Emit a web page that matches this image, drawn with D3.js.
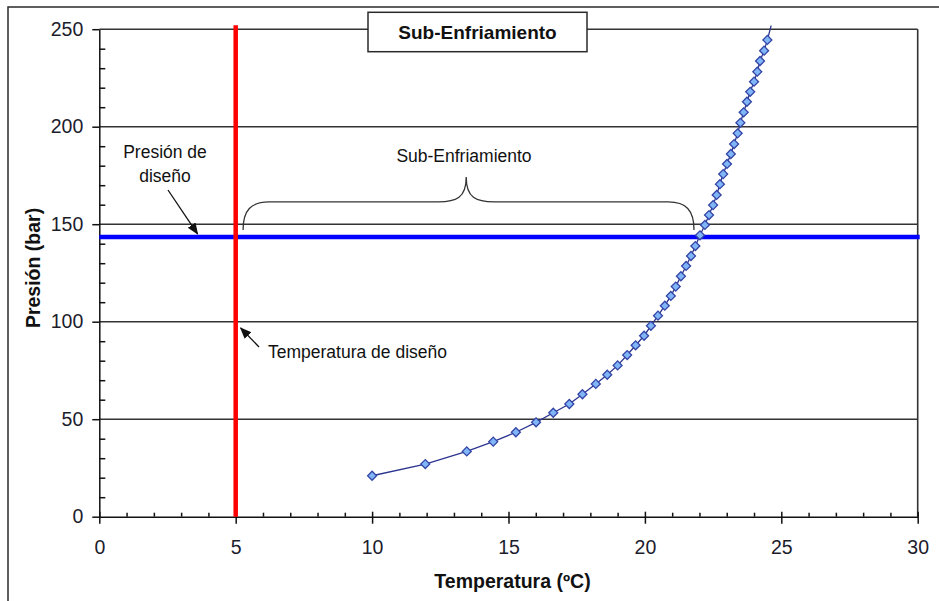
<!DOCTYPE html>
<html>
<head>
<meta charset="utf-8">
<script src="https://cdn.jsdelivr.net/npm/d3@7"></script>
<style>
  html, body { margin: 0; padding: 0; background: #fff; }
  svg { display: block; font-family: "Liberation Sans", Arial, sans-serif; }
</style>
</head>
<body>
<svg id="chart" width="939" height="601"></svg>
<script>
// Saturation curve: temperature (ºC) vs pressure (bar)
const temps = [10.0, 11.95, 13.47, 14.44, 15.27, 16.01, 16.64, 17.23, 17.71, 18.2,
  18.62, 19.0, 19.35, 19.66, 19.97, 20.22, 20.48, 20.73, 20.95, 21.13,
  21.32, 21.51, 21.69, 21.85, 22.02, 22.2, 22.35, 22.5, 22.63, 22.75,
  22.87, 23.01, 23.15, 23.27, 23.4, 23.5, 23.62, 23.74, 23.86, 24.0,
  24.12, 24.22, 24.37, 24.49, 24.63];
const pressures = [21.0, 27.0, 33.5, 38.5, 43.3, 48.4, 53.3, 57.8, 62.8, 68.1,
  72.8, 77.6, 82.9, 87.9, 92.8, 97.9, 103.1, 108.2, 113.2, 118.0,
  123.3, 128.6, 133.7, 138.8, 144.3, 149.6, 154.7, 159.8, 165.0, 170.5,
  175.7, 180.9, 186.0, 191.1, 196.6, 202.0, 207.4, 212.8, 217.9, 223.1,
  228.2, 233.7, 239.0, 244.5, 252.0];

const designTemp = 5;          // Temperatura de diseño (ºC)
const designPressure = 143.5;  // Presión de diseño (bar)

const xMajorTicks = [0, 5, 10, 15, 20, 25, 30];
const yMajorTicks = [0, 50, 100, 150, 200, 250];

const chartTitle = "Sub-Enfriamiento";
const xTitle = "Temperatura (ºC)";
const yTitle = "Presión (bar)";

const svg = d3.select("#chart");
const FONT = '"Liberation Sans", Arial, sans-serif';

const x = d3.scaleLinear().domain([0, 30]).range([99.3, 917.7]);
const y = d3.scaleLinear().domain([0, 250]).range([516.7, 29.2]);

// Outer chart frame (continues past the right and bottom edges)
svg.append("rect")
  .attr("x", 8).attr("y", 7).attr("width", 1000).attr("height", 700)
  .attr("fill", "#fff").attr("stroke", "#2a2a2a").attr("stroke-width", 1.5);

// Horizontal gridlines
svg.append("g")
  .selectAll("line")
  .data(yMajorTicks.filter(d => d > 0))
  .join("line")
  .attr("x1", x(0)).attr("x2", x(30))
  .attr("y1", d => y(d)).attr("y2", d => y(d))
  .attr("stroke", "#333").attr("stroke-width", 1.6);

// Right edge of plot area
svg.append("line")
  .attr("x1", x(30)).attr("x2", x(30))
  .attr("y1", y(250)).attr("y2", y(0))
  .attr("stroke", "#333").attr("stroke-width", 1.6);

// Y axis: major ticks outward with labels, minor ticks inward
svg.append("g")
  .attr("transform", `translate(${x(0)},0)`)
  .call(d3.axisLeft(y).tickValues(yMajorTicks).tickSize(7).tickSizeOuter(0).tickPadding(9));
svg.append("g")
  .attr("transform", `translate(${x(0)},0)`)
  .call(d3.axisLeft(y).tickValues(d3.range(10, 250, 10).filter(d => d % 50 !== 0))
    .tickSize(-6).tickSizeOuter(0).tickFormat(""))
  .call(g => g.select(".domain").remove());

// X axis: major ticks crossing the axis with labels, minor ticks inward
const xAxis = svg.append("g")
  .attr("transform", `translate(0,${y(0)})`)
  .call(d3.axisBottom(x).tickValues(xMajorTicks).tickSize(7).tickSizeOuter(0).tickPadding(16));
xAxis.selectAll(".tick line").attr("y1", -5);
svg.append("g")
  .attr("transform", `translate(0,${y(0)})`)
  .call(d3.axisBottom(x).tickValues(d3.range(1, 30, 1).filter(d => d % 5 !== 0))
    .tickSize(-4).tickSizeOuter(0).tickFormat(""))
  .call(g => g.select(".domain").remove());

svg.selectAll(".tick line, .domain").attr("stroke", "#111").attr("stroke-width", 1.5);
svg.selectAll(".tick text")
  .attr("font-family", FONT).attr("font-size", 19.5).attr("fill", "#1c1c2c");

// Axis titles
svg.append("text")
  .attr("x", (x(0) + x(30)) / 2 + 4).attr("y", 588)
  .attr("text-anchor", "middle")
  .attr("font-family", FONT).attr("font-size", 19.5).attr("font-weight", "bold")
  .attr("fill", "#111")
  .text(xTitle);
svg.append("text")
  .attr("transform", `translate(40,${(y(0) + y(250)) / 2 - 5}) rotate(-90)`)
  .attr("text-anchor", "middle")
  .attr("font-family", FONT).attr("font-size", 19.5).attr("font-weight", "bold")
  .attr("fill", "#111")
  .text(yTitle);

// Design pressure (blue) and design temperature (red)
svg.append("line")
  .attr("x1", x(0)).attr("x2", x(30) + 2)
  .attr("y1", y(designPressure)).attr("y2", y(designPressure))
  .attr("stroke", "#0000ff").attr("stroke-width", 4.5);
svg.append("line")
  .attr("x1", x(designTemp)).attr("x2", x(designTemp))
  .attr("y1", y(250) - 4).attr("y2", y(0))
  .attr("stroke", "#ff0000").attr("stroke-width", 4.5);

// Saturation curve
const pts = temps.map((t, i) => ({ t, p: pressures[i] }));
svg.append("clipPath").attr("id", "lineClip")
  .append("rect").attr("x", x(0)).attr("y", y(250) - 4)
  .attr("width", x(30) - x(0)).attr("height", y(0) - y(250) + 4);
svg.append("clipPath").attr("id", "plotClip")
  .append("rect").attr("x", x(0) - 6).attr("y", y(250))
  .attr("width", x(30) - x(0) + 12).attr("height", y(0) - y(250) + 6);

svg.append("path")
  .datum(pts)
  .attr("clip-path", "url(#lineClip)")
  .attr("fill", "none").attr("stroke", "#2b3590").attr("stroke-width", 1.3)
  .attr("d", d3.line().x(d => x(d.t)).y(d => y(d.p)));

const diamond = d3.symbol().type(d3.symbolSquare).size(40);
svg.append("g")
  .attr("clip-path", "url(#plotClip)")
  .selectAll("path")
  .data(pts.filter(d => d.p <= 250))
  .join("path")
  .attr("transform", d => `translate(${x(d.t)},${y(d.p)}) rotate(45)`)
  .attr("d", diamond)
  .attr("fill", "#80b6f7").attr("stroke", "#3445a6").attr("stroke-width", 1.3);

// Sub-cooling brace between design temperature and the curve
const bx0 = x(5.27), bx1 = x(21.8), bxm = x(13.45);
const by0 = y(147), byh = y(161.4), byp = y(174.2);
svg.append("path")
  .attr("fill", "none").attr("stroke", "#333").attr("stroke-width", 1.3)
  .attr("d", `M${bx0},${by0} C${bx0},${byh + 8} ${bx0 + 8},${byh} ${bx0 + 26},${byh}
    L${bxm - 28},${byh} C${bxm - 10},${byh} ${bxm},${byh - 4} ${bxm},${byp}
    C${bxm},${byh - 4} ${bxm + 10},${byh} ${bxm + 28},${byh}
    L${bx1 - 26},${byh} C${bx1 - 8},${byh} ${bx1},${byh + 8} ${bx1},${by0}`);

// Annotations
const defs = svg.append("defs");
defs.append("marker").attr("id", "arrow")
  .attr("viewBox", "0 0 10 10").attr("refX", 9).attr("refY", 5)
  .attr("markerWidth", 9).attr("markerHeight", 9).attr("orient", "auto")
  .append("path").attr("d", "M0,1 L10,5 L0,9 Z").attr("fill", "#111");

const note = (tx, ty, txt, anchor) => svg.append("text")
  .attr("x", tx).attr("y", ty).attr("text-anchor", anchor || "start")
  .attr("font-family", FONT).attr("font-size", 17.5).attr("fill", "#111")
  .text(txt);

note(165, 158, "Presión de", "middle");
note(165, 182, "diseño", "middle");
note(464, 162, "Sub-Enfriamiento", "middle");
note(268, 358, "Temperatura de diseño");

svg.append("line")
  .attr("x1", 168).attr("y1", 190).attr("x2", x(3.6)).attr("y2", y(designPressure) - 3)
  .attr("stroke", "#111").attr("stroke-width", 1.3).attr("marker-end", "url(#arrow)");
svg.append("line")
  .attr("x1", 259).attr("y1", 347).attr("x2", x(designTemp) + 5).attr("y2", 328)
  .attr("stroke", "#111").attr("stroke-width", 1.3).attr("marker-end", "url(#arrow)");

// Title box over the top edge of the plot
svg.append("rect")
  .attr("x", 368).attr("y", 12.3).attr("width", 219).attr("height", 39.4)
  .attr("fill", "#fff").attr("stroke", "#2a2a2a").attr("stroke-width", 1.5);
svg.append("text")
  .attr("x", 477.5).attr("y", 38.5).attr("text-anchor", "middle")
  .attr("font-family", FONT).attr("font-size", 19).attr("font-weight", "bold")
  .attr("fill", "#111")
  .text(chartTitle);
</script>
</body>
</html>
